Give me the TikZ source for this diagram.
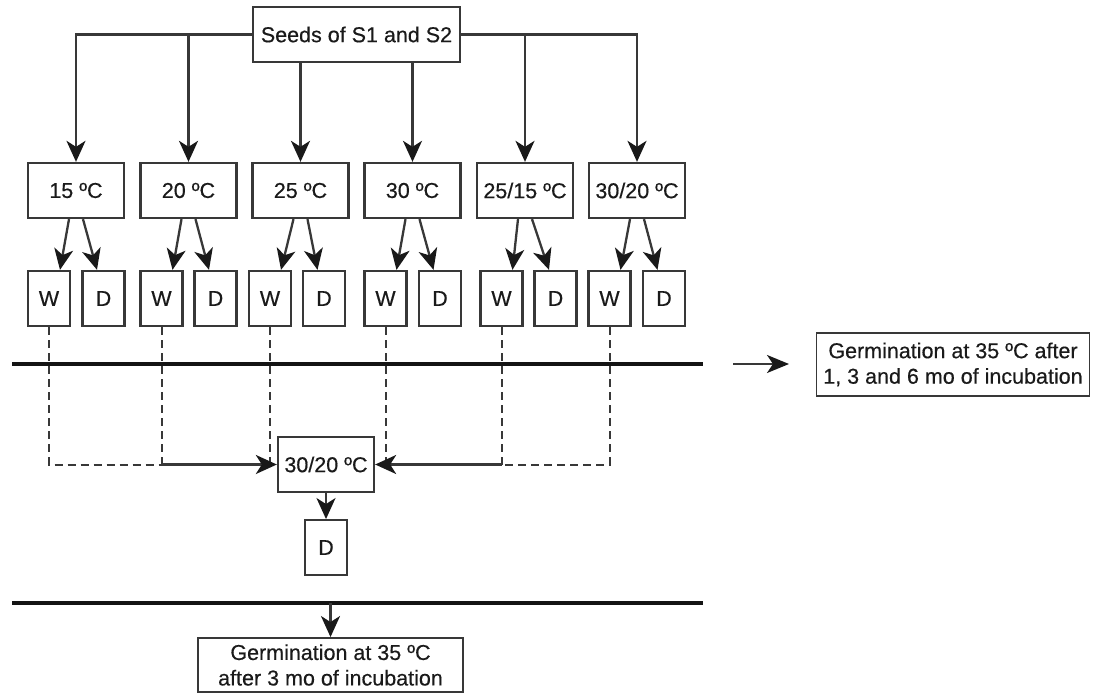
\documentclass[tikz,border=0pt]{standalone}
\usepackage{fontspec}
\setmainfont{Liberation Sans}[FakeBold=0.4]
\usetikzlibrary{arrows.meta}
\definecolor{ln}{HTML}{383838}
\definecolor{tx}{HTML}{1a1a1a}
\begin{document}
\begin{tikzpicture}[x=1pt,y=-1pt,
  box/.style={draw=ln,line width=2.3pt,fill=white,inner sep=0pt,text=tx,
    font=\fontsize{21.5}{25.5}\selectfont,align=center},
  tbox/.style={box,minimum width=96pt,minimum height=55pt},
  wbox/.style={box,minimum width=42pt,minimum height=55pt},
  arr/.style={draw=ln,line width=2.3pt,-{Stealth[length=21pt,width=19pt,inset=6pt,color=black!90]}},
  dsh/.style={draw=ln,line width=2pt,dash pattern=on 8pt off 5pt},
  rulel/.style={draw=black!92,line width=3.2pt}]
\path[use as bounding box] (0,0) rectangle (1094,695);

% seeds
\node[box,minimum width=207pt,minimum height=55pt] (seeds) at (356.5,34.5) {Seeds of S1 and S2};

% temperature boxes
\node[tbox] (t1) at (76,190.5) {15 ºC};
\node[tbox] (t2) at (188.5,190.5) {20 ºC};
\node[tbox] (t3) at (300.5,190.5) {25 ºC};
\node[tbox] (t4) at (412.5,190.5) {30 ºC};
\node[tbox] (t5) at (525,190.5) {25/15 ºC};
\node[tbox] (t6) at (637,190.5) {30/20 ºC};

% W / D boxes
\node[wbox] (w1) at (49,298.5) {W};
\node[wbox] (d1) at (103.5,298.5) {D};
\node[wbox] (w2) at (161.5,298.5) {W};
\node[wbox] (d2) at (215.5,298.5) {D};
\node[wbox] (w3) at (270,298.5) {W};
\node[wbox] (d3) at (324,298.5) {D};
\node[wbox] (w4) at (385.5,298.5) {W};
\node[wbox] (d4) at (440,298.5) {D};
\node[wbox] (w5) at (501.5,298.5) {W};
\node[wbox] (d5) at (555.5,298.5) {D};
\node[wbox] (w6) at (609.5,298.5) {W};
\node[wbox] (d6) at (664,298.5) {D};

% middle and bottom
\node[tbox] (mid) at (326,464.5) {30/20 ºC};
\node[wbox,line width=1.9pt] (md) at (326,547.5) {D};
\node[box,line width=1.9pt,minimum width=265pt,minimum height=54pt] (bot) at (330.5,665)
  {Germination at 35 ºC\\after 3 mo of incubation};
\node[box,line width=1.9pt,minimum width=273pt,minimum height=63pt] (right) at (953,364.5)
  {Germination at 35 ºC after\\1, 3 and 6 mo of incubation};

% rules
\coordinate (l1a) at (12,364);
\coordinate (l1b) at (703,364);
\coordinate (l2a) at (12,603);
\coordinate (l2b) at (703,603);
\draw[rulel] (l1a) -- (l1b);
\draw[rulel] (l2a) -- (l2b);

% free arrow to the right box
\coordinate (fa) at (733,364);
\coordinate (fb) at (789,364);
\draw[arr,-{Stealth[length=22pt,width=18pt,inset=6pt,color=black!90]}] (fa) -- (fb);

% seeds to temperatures
\draw[arr] (seeds.west) -| (t1.north);
\draw[arr] (seeds.west) -| (t2.north);
\draw[arr] (seeds.south -| t3.north) -- (t3.north);
\draw[arr] (seeds.south -| t4.north) -- (t4.north);
\draw[arr] (seeds.east) -| (t5.north);
\draw[arr] (seeds.east) -| (t6.north);

% temperatures to W / D
\foreach \i in {1,...,6}{
  \draw[arr] ([xshift=-7pt]t\i.south) -- ([xshift=11pt]w\i.north);
  \draw[arr] ([xshift=7pt]t\i.south) -- ([xshift=-6.5pt]d\i.north);
}

% dashed collectors
\draw[dsh] (w1.south) |- (w2.south |- mid.west);
\draw[dsh] (w2.south) -- (w2.south |- mid.west);
\draw[dsh] (w3.south) -- (w3.south |- mid.west);
\draw[dsh] (w6.south) |- (w5.south |- mid.west);
\draw[dsh] (w5.south) -- (w5.south |- mid.west);
\draw[dsh] (w4.south) -- (w4.south |- mid.west);
\draw[arr] (w2.south |- mid.west) -- (mid.west);
\draw[arr] (w5.south |- mid.east) -- (mid.east);

% down arrows
\draw[arr] (mid.south) -- (md.north);
\draw[arr] (bot.north |- l2a) -- (bot.north);
\end{tikzpicture}
\end{document}
